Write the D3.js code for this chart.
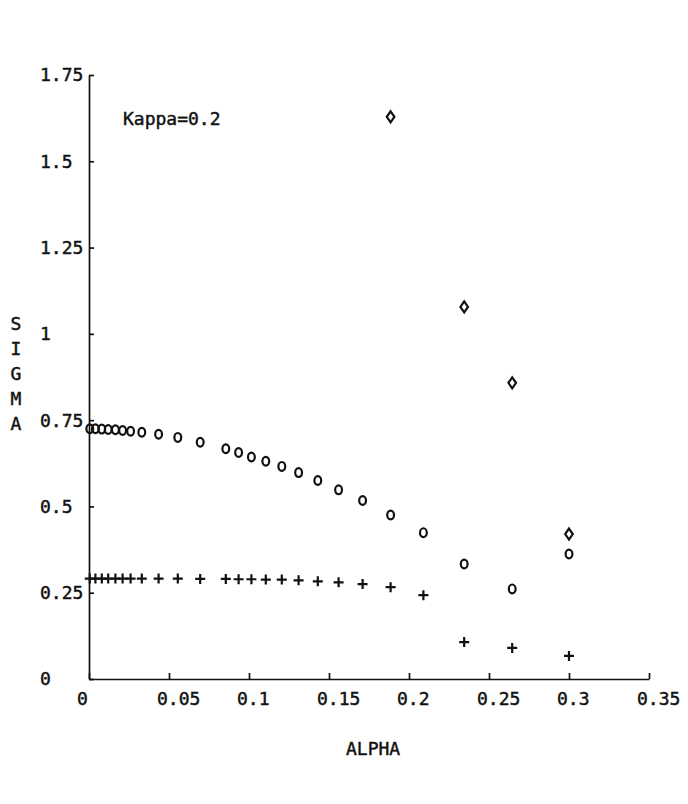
<!DOCTYPE html>
<html>
<head>
<meta charset="utf-8">
<script src="https://cdn.jsdelivr.net/npm/d3@7"></script>
<style>
  html, body { margin: 0; padding: 0; background: #fff; }
  svg { display: block; }
  text { font-family: "DejaVu Sans Mono", "Liberation Mono", monospace; fill: #111; stroke: #111; stroke-width: 0.45; }
</style>
</head>
<body>
<svg id="chart" width="688" height="804"></svg>
<script>
// ---- data ----
const alpha = [0.0005, 0.004, 0.008, 0.012, 0.0165, 0.021, 0.026, 0.033, 0.0435, 0.0555,
               0.0695, 0.0855, 0.0935, 0.1015, 0.1105, 0.1205, 0.131, 0.143, 0.156, 0.171,
               0.1885, 0.209, 0.2345, 0.2645, 0.3];
const sigmaCircle = [0.725, 0.725, 0.724, 0.723, 0.722, 0.720, 0.718, 0.715, 0.709, 0.700,
                     0.686, 0.667, 0.656, 0.643, 0.631, 0.616, 0.598, 0.575, 0.548, 0.517,
                     0.475, 0.424, 0.333, 0.261, 0.362];
const sigmaPlus = [0.291, 0.291, 0.291, 0.291, 0.291, 0.291, 0.291, 0.291, 0.291, 0.291,
                   0.290, 0.290, 0.289, 0.289, 0.288, 0.288, 0.286, 0.283, 0.280, 0.275,
                   0.266, 0.243, 0.107, 0.090, 0.067];
const alphaDiamond = [0.1885, 0.2345, 0.2645, 0.3];
const sigmaDiamond = [1.629, 1.078, 0.858, 0.420];
const xTicks = [0, 0.05, 0.1, 0.15, 0.2, 0.25, 0.3, 0.35];
const xTickLabels = ["0", "0.05", "0.1", "0.15", "0.2", "0.25", "0.3", "0.35"];
const yTicks = [0, 0.25, 0.5, 0.75, 1, 1.25, 1.5, 1.75];
const yTickLabels = ["0", "0.25", "0.5", "0.75", "1", "1.25", "1.5", "1.75"];
const xTitle = "ALPHA";
const yTitle = "SIGMA";
const annotation = "Kappa=0.2";

// ---- layout ----
const svg = d3.select("#chart");
const x = d3.scaleLinear().domain([0, 0.35]).range([89, 649]);
const y = d3.scaleLinear().domain([0, 1.75]).range([679, 75]);
const ink = "#111";

// x axis
const gx = svg.append("g").attr("transform", `translate(0,${y(0)})`)
  .call(d3.axisBottom(x).tickValues(xTicks).tickSize(-6).tickSizeOuter(0).tickFormat(() => ""));
gx.select(".domain").attr("stroke", ink).attr("stroke-width", 1.7);
gx.selectAll(".tick line").attr("stroke", ink).attr("stroke-width", 1.7);

// y axis
const gy = svg.append("g").attr("transform", `translate(${x(0)},0)`)
  .call(d3.axisLeft(y).tickValues(yTicks).tickSize(-5).tickSizeOuter(0).tickFormat(() => ""));
gy.select(".domain").attr("stroke", ink).attr("stroke-width", 1.7);
gy.selectAll(".tick line").attr("stroke", ink).attr("stroke-width", 1.7);

// tick labels
svg.append("g").selectAll("text").data(xTicks).join("text")
  .attr("x", d => x(d) - 12).attr("y", y(0) + 26)
  .attr("font-size", 18)
  .text((d, i) => xTickLabels[i]);
svg.append("g").selectAll("text").data(yTicks).join("text")
  .attr("x", 40).attr("y", d => y(d)).attr("dy", "0.36em")
  .attr("font-size", 18)
  .text((d, i) => yTickLabels[i]);

// titles
svg.append("text").attr("x", 346).attr("y", 755).attr("font-size", 18).text(xTitle);
svg.append("g").selectAll("text").data(yTitle.split("")).join("text")
  .attr("x", 16).attr("y", (d, i) => 330 + i * 25)
  .attr("text-anchor", "middle").attr("font-size", 18)
  .text(d => d);
svg.append("text").attr("x", 123).attr("y", 125).attr("font-size", 18).text(annotation);

// markers
const marks = svg.append("g");
marks.selectAll("ellipse").data(alpha).join("ellipse")
  .attr("cx", d => x(d)).attr("cy", (d, i) => y(sigmaCircle[i]))
  .attr("rx", 3.4).attr("ry", 4.4)
  .attr("fill", "none").attr("stroke", ink).attr("stroke-width", 2.2);
marks.selectAll("path.plus").data(alpha).join("path").attr("class", "plus")
  .attr("d", (d, i) => {
    const cx = x(d), cy = y(sigmaPlus[i]);
    return `M${cx - 5},${cy}H${cx + 5}M${cx},${cy - 5}V${cy + 5}`;
  })
  .attr("fill", "none").attr("stroke", ink).attr("stroke-width", 2.2);
marks.selectAll("path.diamond").data(alphaDiamond).join("path").attr("class", "diamond")
  .attr("d", (d, i) => {
    const cx = x(d), cy = y(sigmaDiamond[i]);
    return `M${cx},${cy - 5.5}L${cx + 3.8},${cy}L${cx},${cy + 5.5}L${cx - 3.8},${cy}Z`;
  })
  .attr("fill", "none").attr("stroke", ink).attr("stroke-width", 2.2);
</script>
</body>
</html>
